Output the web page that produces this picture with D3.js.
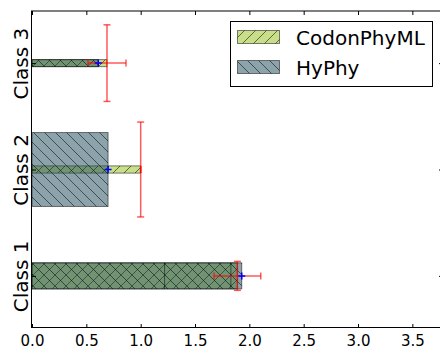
<!DOCTYPE html>
<html>
<head>
<meta charset="utf-8">
<script src="https://cdn.jsdelivr.net/npm/d3@7"></script>
<style>
  html, body { margin: 0; padding: 0; background: #fff; }
  svg { display: block; font-family: "DejaVu Sans", sans-serif; }
</style>
</head>
<body>
<svg id="chart" width="440" height="350"></svg>
<script>
// Per-class estimates: bar length = rate, bar thickness = class weight
const categories = ["Class 1", "Class 2", "Class 3"];
const seriesNames = ["CodonPhyML", "HyPhy"];

const codonValues  = [1.89, 1.00, 0.69];
const codonWeights = [0.245, 0.068, 0.066];
const codonXErr    = [0.215, 0.0, 0.175];
const codonYErr    = [0.136, 0.446, 0.36];

const hyphyValues  = [1.93, 0.70, 0.61];
const hyphyWeights = [0.245, 0.695, 0.066];

// additional bar outlines drawn inside the Class 1 bar
const class1Outlines = [1.22, 1.83];

const xTicks = [0, 0.5, 1.0, 1.5, 2.0, 2.5, 3.0, 3.5];

const svg = d3.select("#chart");
const plotLeft = 32, plotRight = 443, plotTop = 11, plotBottom = 328;

const x = d3.scaleLinear().domain([0, 3.782]).range([plotLeft, plotRight]);
const y = d3.scaleLinear().domain([-0.49, 2.49]).range([plotBottom, plotTop]);

const colors = { CodonPhyML: "#91be14", HyPhy: "#19485a" };

// hatch patterns: translucent face colour with darker hatch strokes
const defs = svg.append("defs");
function hatch(id, color, forward) {
  const s = 11;
  const p = defs.append("pattern")
    .attr("id", id).attr("patternUnits", "userSpaceOnUse")
    .attr("width", s).attr("height", s);
  p.append("rect").attr("width", s).attr("height", s)
    .attr("fill", color).attr("fill-opacity", 0.5);
  const segs = forward
    ? [[0, s, s, 0], [-s, s, 0, 0], [s, s * 2, s * 2, s]]
    : [[0, 0, s, s], [-s, 0, 0, s], [s, 0, s * 2, s]];
  segs.forEach(d => p.append("line")
    .attr("x1", d[0]).attr("y1", d[1]).attr("x2", d[2]).attr("y2", d[3])
    .attr("stroke", "#000").attr("stroke-opacity", 0.6).attr("stroke-width", 0.9));
}
hatch("hatch-codon", colors.CodonPhyML, true);
hatch("hatch-hyphy", colors.HyPhy, false);

const plot = svg.append("g");

function bars(values, weights, pat) {
  plot.append("g").selectAll("rect")
    .data(values.map((v, i) => ({ v, w: weights[i], i })))
    .join("rect")
    .attr("x", x(0))
    .attr("y", d => y(d.i + d.w / 2))
    .attr("width", d => x(d.v) - x(0))
    .attr("height", d => y(d.i - d.w / 2) - y(d.i + d.w / 2))
    .attr("fill", `url(#${pat})`)
    .attr("stroke", "#000")
    .attr("stroke-opacity", 0.5)
    .attr("stroke-width", 1);
}
bars(codonValues, codonWeights, "hatch-codon");
bars(hyphyValues, hyphyWeights, "hatch-hyphy");

// outlines inside class 1
plot.append("g").selectAll("line")
  .data(class1Outlines)
  .join("line")
  .attr("x1", d => x(d)).attr("x2", d => x(d))
  .attr("y1", y(0 + hyphyWeights[0] / 2)).attr("y2", y(0 - hyphyWeights[0] / 2))
  .attr("stroke", "#000").attr("stroke-opacity", 0.5).attr("stroke-width", 1);

// error bars for CodonPhyML
const eb = plot.append("g").attr("stroke", "#ff0000").attr("stroke-opacity", 0.65)
  .attr("stroke-width", 1.5).attr("fill", "none");
const cap = 3.5;
codonValues.forEach((v, i) => {
  const cx = x(v), cy = y(i);
  const x0 = x(v - codonXErr[i]), x1 = x(v + codonXErr[i]);
  const y0 = y(i - codonYErr[i]), y1 = y(i + codonYErr[i]);
  eb.append("line").attr("x1", x0).attr("x2", x1).attr("y1", cy).attr("y2", cy);
  eb.append("line").attr("x1", x0).attr("x2", x0).attr("y1", cy - cap).attr("y2", cy + cap);
  eb.append("line").attr("x1", x1).attr("x2", x1).attr("y1", cy - cap).attr("y2", cy + cap);
  eb.append("line").attr("x1", cx).attr("x2", cx).attr("y1", y0).attr("y2", y1);
  eb.append("line").attr("x1", cx - cap).attr("x2", cx + cap).attr("y1", y0).attr("y2", y0);
  eb.append("line").attr("x1", cx - cap).attr("x2", cx + cap).attr("y1", y1).attr("y2", y1);
});

// HyPhy point markers
plot.append("g").selectAll("path")
  .data(hyphyValues.map((v, i) => ({ v, i })))
  .join("path")
  .attr("d", d => {
    const cx = x(d.v), cy = y(d.i), r = 3.5;
    return `M${cx - r},${cy}H${cx + r}M${cx},${cy - r}V${cy + r}`;
  })
  .attr("stroke", "#0000ff").attr("stroke-width", 1.5).attr("fill", "none");

// axes: inward ticks on all four sides
const axB = d3.axisBottom(x).tickValues(xTicks).tickFormat(d3.format(".1f"))
  .tickSizeInner(-4).tickSizeOuter(0).tickPadding(7);
const gB = svg.append("g").attr("transform", `translate(0,${plotBottom})`).call(axB);
gB.select(".domain").remove();
gB.selectAll("text").attr("font-size", 15).attr("font-family", "DejaVu Sans").attr("fill", "#000");

const axT = d3.axisTop(x).tickValues(xTicks).tickFormat("")
  .tickSizeInner(-4).tickSizeOuter(0);
const gT = svg.append("g").attr("transform", `translate(0,${plotTop})`).call(axT);
gT.select(".domain").remove();

const axL = d3.axisLeft(y).tickValues([0, 1, 2]).tickFormat(i => categories[i])
  .tickSizeInner(-4).tickSizeOuter(0).tickPadding(4);
const gL = svg.append("g").attr("transform", `translate(${plotLeft},0)`).call(axL);
gL.select(".domain").remove();
gL.selectAll("text")
  .attr("font-size", 20).attr("font-family", "DejaVu Sans").attr("fill", "#000")
  .attr("text-anchor", "middle").attr("dy", 0).attr("x", 0)
  .attr("transform", "translate(-4,0) rotate(-90)");

const axR = d3.axisRight(y).tickValues([0, 1, 2]).tickFormat("")
  .tickSizeInner(-4).tickSizeOuter(0);
const gR = svg.append("g").attr("transform", `translate(${plotRight},0)`).call(axR);
gR.select(".domain").remove();

svg.selectAll(".tick line").attr("stroke", "#000");

// frame
svg.append("rect")
  .attr("x", plotLeft - 0.5).attr("y", plotTop)
  .attr("width", plotRight - plotLeft).attr("height", plotBottom - plotTop - 0.5)
  .attr("fill", "none").attr("stroke", "#000").attr("stroke-width", 1);

// legend
const lg = svg.append("g");
lg.append("rect").attr("x", 230.5).attr("y", 21.5).attr("width", 202).attr("height", 65)
  .attr("fill", "#fff").attr("stroke", "#000").attr("stroke-width", 1);
const legendItems = [
  { name: seriesNames[0], pat: "hatch-codon" },
  { name: seriesNames[1], pat: "hatch-hyphy" }
];
legendItems.forEach((d, i) => {
  const yy = 30 + i * 30;
  lg.append("rect").attr("x", 237.5).attr("y", yy + 0.5).attr("width", 42).attr("height", 13)
    .attr("fill", `url(#${d.pat})`).attr("stroke", "#000").attr("stroke-opacity", 0.5);
  lg.append("text").attr("x", 296).attr("y", yy + 14.5)
    .attr("font-size", 20).attr("fill", "#000").text(d.name);
});
</script>
</body>
</html>
